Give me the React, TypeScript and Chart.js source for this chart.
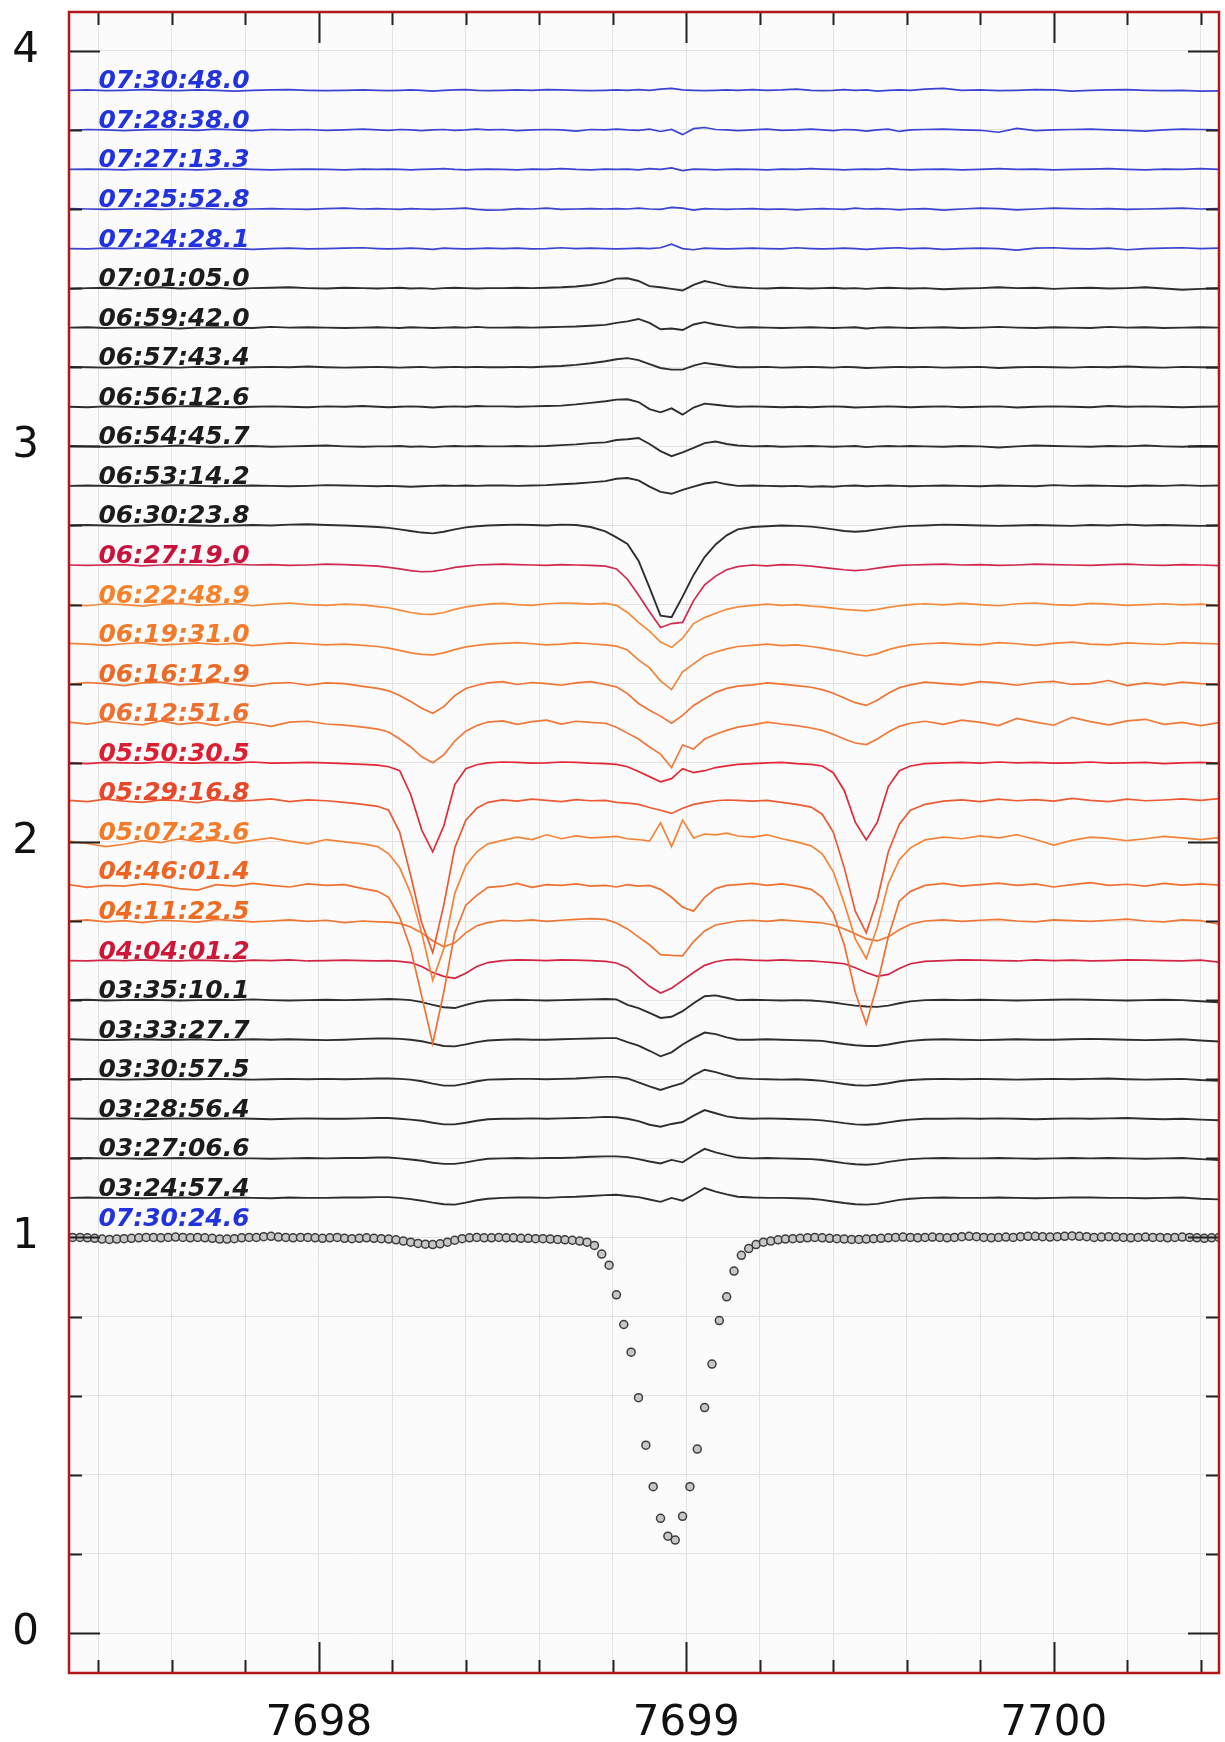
import React, { useEffect, useRef } from "react";
import { Chart, registerables } from "chart.js";

Chart.register(...registerables);

// ---------------- axis ranges ----------------
const X_MIN = 7697.32;
const X_MAX = 7700.45;
const Y_MIN = -0.101;
const Y_MAX = 4.098;
const TICK_STEP = 0.2;
const LABEL_X = 7697.4;

// ---------------- wavelength grid of the stacked spectra ----------------
const WL = [
  7697.32, 7697.37, 7697.42, 7697.47, 7697.52, 7697.57, 7697.62, 7697.67, 7697.72, 7697.77, 7697.82, 7697.87, 7697.92, 7697.97, 7698.02, 7698.07, 7698.12, 7698.16,
  7698.19, 7698.22, 7698.25, 7698.28, 7698.31, 7698.34, 7698.37, 7698.40, 7698.43, 7698.46,
  7698.50, 7698.54, 7698.58, 7698.62, 7698.66, 7698.70, 7698.74, 7698.78,
  7698.81, 7698.84, 7698.87, 7698.90, 7698.93, 7698.96, 7698.99, 7699.02, 7699.05, 7699.08, 7699.11, 7699.14,
  7699.18, 7699.22, 7699.26, 7699.30, 7699.34,
  7699.37, 7699.40, 7699.43, 7699.46, 7699.49, 7699.52, 7699.55, 7699.58, 7699.61,
  7699.65, 7699.70, 7699.75, 7699.80, 7699.85, 7699.90, 7699.95, 7700.00, 7700.05, 7700.10, 7700.15, 7700.20, 7700.25, 7700.30, 7700.35, 7700.40, 7700.46,
];

// Each spectrum: deviation from its vertical offset, in thousandths of relative flux.
const F_073048 = [
  0, 1, -1, 0, 2, 0, -1, 1, 0, -2, 0, 1, 2, 0, -1, 0, 1, 0,
  -1, 0, 1, 0, -2, 0, 1, 2, 0, -1,
  0, 1, 0, 2, 1, 0, -1, 0,
  1, 0, 2, 0, 3, 5, 1, 0, -1, 0, 1, 0,
  2, 0, 1, 3, 0,
  -1, 0, 2, 0, 1, -2, 0, 1, 0,
  3, 5, 0, 1, -1, 0, 2, 1, -2, 0, 1, 2, 0, -1, 0, -2, -1,
];
const F_072838 = [
  -1, 1, 0, -2, 0, 1, 0, -1, 2, 0, -2, 1, 0, 1, -1, 0, 2, 0,
  -1, 1, 0, -2, 0, 1, -1, 0, 2, 0,
  1, -2, 0, 1, 0, -3, 1, 0,
  2, 0, -1, 2, -4, 1, -12, 3, 6, 1, 0, -2,
  0, 2, -1, 0, 2,
  0, -2, 1, 0, -3, 0, 2, -4, 0,
  1, 2, 0, -1, -6, 4, -2, 0, 1, 2, 0, -1, -3, 0, 2, 1, 0,
];
const F_072713 = [
  0, 1, 0, -1, 1, 0, 0, -1, 1, 2, 0, -1, 0, 1, 0, -1, 1, 0,
  1, 0, -1, 0, 1, 2, 0, -1, 0, 1,
  0, -1, 1, 0, 2, 0, -1, 1,
  0, 1, -1, 2, 0, 4, -3, 1, 0, -1, 0, 1,
  0, -1, 1, 0, 2,
  1, 0, -1, 0, 1, 0, 2, 0, -1,
  0, 1, -1, 0, 2, 0, 1, -1, 0, 1, 2, 0, -1, 1, 0, 2, 0,
];
const F_072552 = [
  1, 0, -1, 0, 1, -1, 0, 2, 0, -1, 0, 1, 0, -1, 1, 2, 0, 1,
  0, -1, 1, 0, -1, 0, 1, 2, -1, -3,
  -2, 1, 0, 2, -1, 0, 1, 0,
  1, 0, 2, 0, -1, 4, 2, -3, 1, 0, -1, 0,
  1, -1, 0, -2, 0,
  1, 0, -1, 2, 0, 1, 0, -2, 0,
  1, -3, 0, 2, 1, -2, 0, 2, 1, 0, 1, -1, 0, 1, 2, 0, 1,
];
const F_072428 = [
  0, -1, 1, 0, 2, 0, -1, 0, 1, 0, -2, 0, 1, -1, 0, 1, 2, 0,
  -1, 0, 1, 0, -2, 1, 0, -1, 0, 1,
  0, 1, -1, 0, 2, 0, 1, 0,
  -1, 0, 1, 0, 2, 11, 0, -3, 1, 0, -1, 0,
  1, 0, -1, 2, 0,
  -1, 0, 1, 0, -2, 0, 1, 2, 0,
  1, -2, 0, 1, 0, -4, 1, 2, 0, -1, 1, -3, 0, 1, 2, 0, 1,
];
const F_070105 = [
  -2, 0, 1, -1, 0, 2, -1, 0, 1, -2, 0, 1, 2, 0, -1, 1, 0, -1,
  0, 1, -1, 0, -2, 0, 1, 0, -1, 0,
  0, 1, 0, 1, 2, 4, 8, 15,
  24, 25, 18, 5, 2, -2, -6, 8, 18, 12, 5, 2,
  0, -1, 1, 0, -1,
  0, 1, -1, 0, -2, 0, 1, 0, -1,
  0, -3, -1, 0, 2, 0, 1, -2, 0, 1, -1, 0, 2, -1, -4, -2, 0,
];
const F_065942 = [
  0, 1, -1, 0, 1, 0, -2, 0, 1, 0, -1, 2, 0, 1, 0, -1, 0, 1,
  0, -1, 1, 0, -1, 0, 1, 0, 2, 0,
  0, 1, 0, 1, 2, 3, 5, 7,
  12, 16, 22, 12, -4, -2, -6, 8, 14, 8, 4, 0,
  1, 0, -1, 0, 1,
  0, -1, 0, 1, -2, 0, 1, 0, -1,
  0, 1, -1, 0, 2, 0, -1, 1, 0, -1, 2, 0, 1, -1, 0, 1, 0,
];
const F_065743 = [
  1, 0, -1, 0, 2, 0, -1, 1, 0, -1, 0, 1, 0, 2, 0, -1, 0, 1,
  0, -1, 0, 1, -1, 0, 1, 0, 1, 0,
  0, 1, 0, 2, 3, 6, 10, 15,
  20, 23, 18, 8, -2, -6, -6, 4, 11, 7, 3, 0,
  0, 1, -1, 0, 1,
  0, -1, 1, 0, -2, -1, 0, 1, 0,
  1, -1, 0, 1, -2, 0, 1, 0, -1, 1, 0, 2, 0, -1, 1, 0, -1,
];
const F_065612 = [
  0, -1, 1, 0, -1, 0, 1, 2, 0, -1, 0, 1, 0, -1, 1, 0, 2, 0,
  -1, 0, 1, 0, -2, 0, 1, 0, 2, 1,
  1, 0, 1, 2, 3, 6, 10, 14,
  18, 19, 12, -6, -14, -4, -20, -2, 8, 5, 2, 0,
  1, 0, -1, 0, -1,
  0, 1, 0, -2, -1, 0, 1, 0, -1,
  0, 1, -1, 0, 1, -2, 0, 1, 0, -1, 2, 0, 1, 0, -1, 0, 1,
];
const F_065445 = [
  1, 0, -1, 0, 1, 0, 2, 0, -1, 0, 1, -1, 0, 1, 2, 0, -1, 0,
  0, 1, -1, 0, -2, 0, 1, 0, 1, 0,
  0, 1, 0, 1, 3, 5, 8, 10,
  16, 18, 21, 6, -12, -25, -15, -4, 8, 12, 6, 2,
  0, 1, -1, 0, 1,
  0, -1, 0, 1, -2, 0, 1, 0, 1,
  0, -1, 1, 0, -3, 0, 2, 1, 0, -1, 1, 0, 2, 0, -1, 1, 0,
];
const F_065314 = [
  0, 1, 0, -1, 0, 1, 2, 0, -1, 0, 1, 0, -1, 0, 2, 1, 0, -1,
  0, -1, -2, -1, 0, 1, 0, 1, 0, 1,
  1, 0, 1, 2, 4, 6, 9, 12,
  18, 20, 14, -2, -15, -20, -10, -2, 6, 10, 4, 0,
  1, 0, -1, 0, -2,
  -1, -2, 0, 1, -1, 0, 1, 0, -1,
  0, 1, 0, -1, 1, 0, -1, 2, 0, 1, 0, -1, 1, 0, 2, 0, 1,
];
const F_063023 = [
  0, 1, 0, -1, 0, 2, 1, 0, -1, 0, 1, 0, 2, 3, 1, 0, -2, -4,
  -6, -10, -14, -18, -20, -16, -10, -5, -2, 0,
  1, 2, 1, 0, 2, 1, -4, -15,
  -30, -47, -89, -157, -228, -232, -180, -125, -80, -48, -25, -10,
  -4, -2, 0, -1, -3,
  -6, -10, -14, -16, -14, -10, -6, -3, -1,
  0, 2, 1, 0, -1, 0, 1, 0, -1, 1, 0, 2, 0, 1, 0, -1, 0,
];
const F_062719 = [
  0, -1, 0, 1, -2, 0, 1, 0, -1, 2, 0, 1, -1, 0, 2, 1, -1, -3,
  -6, -10, -14, -17, -16, -12, -6, -3, 0, 1,
  2, 1, 0, -1, 1, 0, -1, -3,
  -10, -36, -76, -118, -158, -148, -145, -90, -50, -28, -12, -4,
  0, -2, 1, 0, -3,
  -6, -9, -12, -14, -12, -8, -4, -1, 0,
  1, 2, 0, 1, -1, 0, 2, 1, 0, -1, 1, 2, 0, -1, 1, 0, -2,
];
const F_062248 = [
  0, -3, 2, 0, -4, 1, 3, -2, 0, 2, -3, 1, 4, 0, -2, 1, -1, -5,
  -8, -14, -20, -24, -25, -20, -12, -6, -2, 1,
  3, 0, -2, 2, 4, 3, 1, 3,
  -2, -20, -45, -67, -95, -108, -85, -48, -33, -22, -12, -6,
  -2, 1, -2, 0, -4,
  -6, -9, -12, -14, -16, -12, -7, -3, 0,
  2, -1, 3, 0, -3, 2, 4, 0, -2, 3, 1, -2, 0, 2, -1, 1, -3,
];
const F_061931 = [
  2, 0, -3, 1, 4, -2, 0, 3, -1, 2, -4, 0, 3, 1, -2, 0, -3, -6,
  -10, -16, -22, -26, -27, -22, -14, -7, -3, 0,
  2, 4, 1, -2, 0, 3, 1, -2,
  -5, -15, -40, -60, -93, -115, -70, -50, -30, -20, -12, -6,
  -3, 0, -4, -2, -6,
  -10, -15, -20, -26, -30, -24, -14, -7, -2,
  1, 3, 0, -2, 4, 1, -3, 2, 5, 0, -2, 3, 1, -1, 4, 2, 0,
];
const F_061612 = [
  -2, 3, 0, -5, 2, 4, -3, 0, 5, -2, -6, 1, 3, -4, 2, 0, -7, -12,
  -18, -30, -45, -62, -75, -58, -30, -12, -4, 2,
  5, -2, 3, 0, -4, 2, 5, -2,
  -8, -25, -50, -67, -82, -100, -80, -55, -38, -22, -12, -6,
  -3, 2, -1, -5, -9,
  -15, -24, -36, -48, -55, -42, -24, -10, -3,
  4, 0, -3, 5, 2, -4, 3, 6, -2, 0, 8, -5, 2, -3, 4, 0, -2,
];
const F_061251 = [
  3, -2, 5, 0, -4, 6, -3, 2, -6, 4, 0, -8, 3, 5, -2, -5, -10, -15,
  -22, -40, -60, -85, -100, -80, -45, -20, -6, 3,
  6, -3, 4, 8, -2, 5, 2, 0,
  -10, -25, -40, -60, -78, -112, -55, -65, -40, -28, -18, -10,
  -4, 3, -2, -6, -12,
  -18, -28, -40, -50, -54, -40, -22, -8, 0,
  5, -3, 8, 2, -6, 12, 3, -5, 15, 4, -4, 6, 10, -3, 2, -6, 3,
];
const F_055030 = [
  0, -2, 1, 0, -1, 2, 0, -1, 1, 0, 2, -1, 0, 1, 0, -2, -4, -6,
  -10, -20, -80, -170, -225, -160, -55, -15, -5, 0,
  2, 1, -1, 0, 2, 1, -1, -2,
  -4, -10, -22, -35, -48, -40, -15, -25, -20, -12, -8, -4,
  -2, 0, 1, -2, -4,
  -8, -25, -70, -150, -195, -150, -60, -20, -8,
  -2, 0, 1, -1, 2, 0, 1, -1, 0, 2, -1, 0, 1, -2, 0, 1, -1,
];
const F_052916 = [
  5, 2, 8, 3, 0, 6, 4, -1, 7, 3, 5, 9, 2, 6, 4, 0, -5, -10,
  -20, -75, -185, -305, -380, -260, -115, -45, -15, 0,
  6, 3, 8, 5, 2, 7, 4, 5,
  0, -2, -5, -13, -20, -28, -15, -5, 0, 4, 6, 5,
  3, 5, 0, -5, -12,
  -30, -75, -165, -275, -330, -245, -125, -55, -20,
  -5, 3, 6, 2, 8, 4, 7, 3, 10, 5, 2, 8, 4, 6, 9, 5, 10,
];
const F_050723 = [
  2, -4, -12, -6, 3, -2, 8, 0, 5, -3, 4, 10, 2, -5, 6, 0, -5, -12,
  -30, -65, -130, -230, -350, -270, -130, -60, -25, -5,
  4, 12, 6, 18, 8, 15, 10, 12,
  14, 8, 6, 2, 48, -12, 55, 10, 20, 18, 22, 15,
  12, 18, 8, 0, -10,
  -30, -75, -155, -245, -295, -215, -105, -45, -15,
  5, 12, 8, 15, 10, 18, 6, -8, 4, 12, 9, 3, 8, 14, 10, 6, 12,
];
const F_044601 = [
  -8, -15, -10, -12, -6, -10, -18, -22, -8, -12, -5, -10, -14, -6, -10, -8, -18, -25,
  -40, -90, -170, -290, -410, -280, -130, -60, -35, -15,
  -12, -5, -15, -8, -10, -6, -12, -10,
  -14, -8, -12, -10, -20, -40, -65, -75, -40, -18, -10, -8,
  -5, -10, -6, -12, -20,
  -40, -80, -160, -280, -360, -260, -140, -50, -25,
  -10, -5, -12, -8, -4, -10, -6, -14, -8, -3, -10, -7, -12, -5, -9, -6, -10,
];
const F_041122 = [
  0, 3, -2, 1, -4, 2, 0, -3, 4, 1, -2, 0, 3, -1, 2, -4, 0, -2,
  -3, -6, -15, -30, -50, -65, -55, -30, -12, -4,
  2, 0, 3, -1, 2, 4, 6, 4,
  -5, -20, -40, -60, -85, -87, -88, -52, -25, -10, -5, 0,
  2, -1, 3, 0, -3,
  -5, -10, -20, -32, -45, -50, -40, -22, -8,
  0, 3, -1, 2, 4, 0, -2, 3, 1, -1, 2, 5, 0, -2, 3, 1, -10,
];
const F_040401 = [
  0, -1, 1, 0, 2, 0, -1, 1, 0, -2, 1, 0, 2, -1, 0, 1, 0, -1,
  0, -2, -5, -15, -30, -40, -45, -32, -15, -5,
  0, 2, 1, 0, 2, 1, 0, -2,
  -6, -18, -42, -65, -82, -70, -50, -30, -12, -3, 2, 3,
  1, 0, 2, 0, -1,
  -3, -5, -8, -18, -30, -40, -35, -20, -8,
  -2, 0, 2, 1, 0, -1, 2, 0, 1, -1, 0, 2, 1, 0, -1, 1, -5,
];
const F_033510 = [
  0, 1, -1, 0, 1, 0, -1, 0, 1, 0, 2, 0, -1, 0, 1, 0, 1, 2,
  3, 2, 0, -5, -12, -18, -20, -12, -5, -1,
  0, 1, 0, -1, 0, 1, 2, 3,
  2, -12, -20, -32, -45, -42, -28, -8, 10, 12, 6, 0,
  1, 0, -1, 0, -1,
  -3, -6, -10, -14, -16, -17, -14, -8, -3,
  0, 1, 0, 1, 0, -1, 0, 1, 2, 1, 0, -1, 0, 1, 0, -3, -6,
];
const F_033327 = [
  1, 0, -1, 0, 1, 0, 0, 1, -1, 0, 1, 0, 1, 0, -1, 0, 2, 3,
  3, 2, 0, -4, -10, -16, -17, -12, -6, -2,
  0, 1, 0, 0, 1, 2, 3, 4,
  4, -6, -15, -28, -42, -32, -12, 4, 18, 14, 6, 0,
  0, 1, 0, -1, -2,
  -3, -7, -11, -14, -16, -16, -12, -7, -3,
  0, 1, 0, -1, 0, 1, 0, 0, 1, 2, 1, 0, -1, 0, 1, -2, -5,
];
const F_033057 = [
  0, 1, 0, -1, 0, 1, 0, 0, 1, 0, -1, 0, 1, 0, 1, 0, 1, 2,
  2, 1, -1, -5, -11, -16, -16, -11, -5, -1,
  0, 1, 1, 0, 1, 2, 4, 6,
  6, 2, -8, -18, -27, -18, -10, 10, 24, 18, 10, 3,
  1, 0, -1, 0, -2,
  -4, -8, -12, -15, -16, -14, -10, -5, -2,
  0, 1, 0, 1, 0, -1, 0, 1, 0, 1, 2, 0, -1, 0, 1, -2, -4,
];
const F_032856 = [
  1, 0, 0, 1, -1, 0, 1, 0, 0, 1, 0, -1, 0, 1, 0, 0, 1, 2,
  2, 0, -2, -5, -10, -14, -14, -10, -5, -1,
  0, 0, 1, 0, 1, 2, 3, 5,
  4, 0, -6, -15, -20, -13, -8, 8, 22, 14, 6, 2,
  0, 1, 0, -1, -2,
  -4, -7, -11, -14, -15, -13, -9, -5, -2,
  0, 0, 1, 0, 1, 0, -1, 0, 1, 0, 1, 2, 0, -1, 0, -2, -4,
];
const F_032706 = [
  0, 1, 0, 0, -1, 0, 1, 0, 1, 0, 0, -1, 0, 1, 0, 1, 1, 2,
  2, 0, -3, -6, -11, -14, -14, -10, -5, -1,
  0, 1, 0, 1, 1, 2, 4, 5,
  5, 3, -2, -8, -13, -4, -10, 8, 24, 15, 8, 2,
  0, 1, 0, -1, -2,
  -4, -8, -12, -15, -16, -14, -9, -5, -2,
  0, 1, 0, 0, 1, 0, -1, 0, 1, 0, 1, 0, -1, 0, 1, -2, -5,
];
const F_032457 = [
  0, 1, 0, 0, -1, 0, 1, 0, 0, 1, 0, -1, 1, 0, 0, 1, 1, 2,
  2, 0, -3, -7, -12, -16, -17, -12, -6, -2,
  0, 1, 1, 0, 2, 3, 5, 7,
  8, 5, 2, -4, -10, 0, -7, 8, 25, 16, 9, 3,
  1, 0, 0, -1, -2,
  -5, -9, -13, -16, -17, -15, -10, -5, -2,
  0, 1, 0, 0, 1, 0, -1, 0, 1, 1, 0, 0, -1, 0, 1, -2, -4,
];

const SERIES = [
  F_073048, F_072838, F_072713, F_072552, F_072428,
  F_070105, F_065942, F_065743, F_065612, F_065445, F_065314, F_063023,
  F_062719, F_062248, F_061931, F_061612, F_061251, F_055030, F_052916, F_050723, F_044601, F_041122, F_040401,
  F_033510, F_033327, F_033057, F_032856, F_032706, F_032457,
];
const OFFSETS = [
  3.9, 3.8, 3.7, 3.6, 3.5,
  3.4, 3.3, 3.2, 3.1, 3.0, 2.9, 2.8,
  2.7, 2.6, 2.5, 2.4, 2.3, 2.2, 2.1, 2.0, 1.9, 1.8, 1.7,
  1.6, 1.5, 1.4, 1.3, 1.2, 1.1,
];
const LABELS = [
  "07:30:48.0", "07:28:38.0", "07:27:13.3", "07:25:52.8", "07:24:28.1",
  "07:01:05.0", "06:59:42.0", "06:57:43.4", "06:56:12.6", "06:54:45.7", "06:53:14.2", "06:30:23.8",
  "06:27:19.0", "06:22:48.9", "06:19:31.0", "06:16:12.9", "06:12:51.6", "05:50:30.5", "05:29:16.8", "05:07:23.6", "04:46:01.4", "04:11:22.5", "04:04:01.2",
  "03:35:10.1", "03:33:27.7", "03:30:57.5", "03:28:56.4", "03:27:06.6", "03:24:57.4",
];
const TEXT_COLORS = [
  "#2233dd", "#2233dd", "#2233dd", "#2233dd", "#2233dd",
  "#1c1c1c", "#1c1c1c", "#1c1c1c", "#1c1c1c", "#1c1c1c", "#1c1c1c", "#1c1c1c",
  "#c8143c", "#f5822a", "#f07a28", "#ec6a28", "#ee7030", "#dc1e32", "#e8482a", "#f27c2a", "#ee6424", "#ee6c22", "#cc1838",
  "#1c1c1c", "#1c1c1c", "#1c1c1c", "#1c1c1c", "#1c1c1c", "#1c1c1c",
];
const LINE_COLORS = [
  "#3c43d2", "#3c43d2", "#3c43d2", "#3c43d2", "#3c43d2",
  "#2e2e2e", "#2e2e2e", "#2e2e2e", "#2e2e2e", "#2e2e2e", "#2e2e2e", "#2e2e2e",
  "#d02a50", "#f58a3c", "#f3823a", "#ef7434", "#f07838", "#e02838", "#ec5a34", "#f4843a", "#f07032", "#f07634", "#d22444",
  "#2e2e2e", "#2e2e2e", "#2e2e2e", "#2e2e2e", "#2e2e2e", "#2e2e2e",
];

// ---------------- reference profile drawn as circles ----------------
const DOT_LABEL = "07:30:24.6";
const DOT_LABEL_Y = 1.03;
const DOT_WL = [
  7697.33, 7697.35, 7697.37, 7697.39, 7697.41, 7697.43, 7697.45, 7697.47, 7697.49, 7697.51,
  7697.53, 7697.55, 7697.57, 7697.59, 7697.61, 7697.63, 7697.65, 7697.67, 7697.69, 7697.71,
  7697.73, 7697.75, 7697.77, 7697.79, 7697.81, 7697.83, 7697.85, 7697.87, 7697.89, 7697.91,
  7697.93, 7697.95, 7697.97, 7697.99,
  7698.01, 7698.03, 7698.05, 7698.07, 7698.09, 7698.11, 7698.13, 7698.15, 7698.17, 7698.19,
  7698.21, 7698.23, 7698.25, 7698.27, 7698.29, 7698.31, 7698.33, 7698.35, 7698.37, 7698.39,
  7698.41, 7698.43, 7698.45, 7698.47, 7698.49, 7698.51, 7698.53, 7698.55, 7698.57, 7698.59,
  7698.61, 7698.63, 7698.65, 7698.67, 7698.69, 7698.71, 7698.73, 7698.75, 7698.77, 7698.79,
  7698.81, 7698.83, 7698.85, 7698.87, 7698.89, 7698.91, 7698.93, 7698.95, 7698.97, 7698.99,
  7699.01, 7699.03, 7699.05, 7699.07, 7699.09, 7699.11, 7699.13, 7699.15, 7699.17, 7699.19,
  7699.21, 7699.23, 7699.25, 7699.27, 7699.29, 7699.31, 7699.33, 7699.35, 7699.37, 7699.39,
  7699.41, 7699.43, 7699.45, 7699.47, 7699.49, 7699.51, 7699.53, 7699.55, 7699.57, 7699.59,
  7699.61, 7699.63, 7699.65, 7699.67, 7699.69, 7699.71, 7699.73, 7699.75, 7699.77, 7699.79,
  7699.81, 7699.83, 7699.85, 7699.87, 7699.89, 7699.91, 7699.93, 7699.95, 7699.97, 7699.99,
  7700.01, 7700.03, 7700.05, 7700.07, 7700.09, 7700.11, 7700.13, 7700.15, 7700.17, 7700.19,
  7700.21, 7700.23, 7700.25, 7700.27, 7700.29, 7700.31, 7700.33, 7700.35, 7700.37, 7700.39,
  7700.41, 7700.43, 7700.45,
];
const DOT_FLUX = [
  1.000, 1.000, 0.999, 0.998, 0.996, 0.995, 0.996, 0.997, 0.998, 0.999,
  1.000, 1.000, 0.999, 1.000, 1.001, 1.000, 0.999, 1.000, 0.999, 0.998,
  0.996, 0.996, 0.997, 0.999, 1.000, 1.000, 1.002, 1.003, 1.001, 1.000,
  0.999, 1.000, 1.000, 0.999,
  0.998, 0.999, 1.000, 0.998, 0.997, 0.998, 0.999, 0.998, 0.997, 0.996,
  0.994, 0.991, 0.988, 0.985, 0.983, 0.982, 0.984, 0.988, 0.993, 0.997,
  0.999, 1.000, 0.999, 0.999, 1.000, 0.999, 0.999, 0.998, 0.998, 0.997,
  0.997, 0.996, 0.995, 0.994, 0.993, 0.991, 0.988, 0.980, 0.958, 0.930,
  0.855, 0.780, 0.710, 0.595, 0.475, 0.370, 0.290, 0.245, 0.235, 0.295,
  0.370, 0.465, 0.570, 0.680, 0.790, 0.850, 0.915, 0.955, 0.972, 0.982,
  0.988, 0.991, 0.994, 0.996, 0.997, 0.998, 0.999, 1.000, 0.999, 0.998,
  0.997, 0.996, 0.995, 0.995, 0.996, 0.997, 0.998, 0.999, 1.000, 1.001,
  1.000, 0.999, 1.000, 1.001, 1.000, 0.999, 1.000, 1.002, 1.003, 1.002,
  1.000, 0.999, 1.000, 1.001, 1.000, 1.002, 1.003, 1.003, 1.002, 1.001,
  1.002, 1.003, 1.004, 1.003, 1.002, 1.000, 1.001, 1.002, 1.001, 1.000,
  0.999, 1.000, 1.001, 1.000, 1.000, 0.999, 1.000, 1.001, 1.000, 0.999,
  0.998, 0.999, 1.000,
];

const isWhole = (v: number) => Math.abs(v - Math.round(v)) < 1e-6;

export default function App() {
  const ref = useRef<HTMLCanvasElement | null>(null);

  useEffect(() => {
    document.body.style.margin = "0";
    const canvas = ref.current;
    if (!canvas) return;

    const datasets: any[] = SERIES.map((dev, i) => ({
      label: LABELS[i],
      data: WL.map((x, j) => ({ x, y: OFFSETS[i] + dev[j] / 1000 })),
      showLine: true,
      borderColor: LINE_COLORS[i],
      borderWidth: LINE_COLORS[i] === "#2e2e2e" ? 1.9 : 1.7,
      pointRadius: 0,
      tension: 0,
      fill: false,
    }));
    datasets.push({
      label: DOT_LABEL,
      data: DOT_WL.map((x, j) => ({ x, y: DOT_FLUX[j] })),
      showLine: false,
      pointRadius: 4,
      pointBorderWidth: 1.5,
      pointBorderColor: "#3c3c3c",
      pointBackgroundColor: "rgba(196,196,196,0.95)",
    });

    const deco = {
      id: "deco",
      beforeDraw(chart: any) {
        const { ctx, chartArea: a } = chart;
        ctx.save();
        ctx.fillStyle = "#fafbfa";
        ctx.fillRect(a.left, a.top, a.right - a.left, a.bottom - a.top);
        ctx.restore();
      },
      afterDatasetsDraw(chart: any) {
        const { ctx } = chart;
        const xs = chart.scales.x;
        const ys = chart.scales.y;
        ctx.save();
        ctx.font = 'italic bold 25px "DejaVu Sans"';
        ctx.textAlign = "left";
        ctx.textBaseline = "alphabetic";
        const lx = xs.getPixelForValue(LABEL_X);
        LABELS.forEach((t, i) => {
          ctx.fillStyle = TEXT_COLORS[i];
          ctx.fillText(t, lx, ys.getPixelForValue(OFFSETS[i]) - 2);
        });
        ctx.fillStyle = "#2233dd";
        ctx.fillText(DOT_LABEL, lx, ys.getPixelForValue(DOT_LABEL_Y));
        ctx.restore();
      },
      afterDraw(chart: any) {
        const { ctx, chartArea: a } = chart;
        const xs = chart.scales.x;
        const ys = chart.scales.y;
        ctx.save();
        ctx.strokeStyle = "#222";
        ctx.lineWidth = 2;
        ctx.beginPath();
        xs.ticks.forEach((t: any) => {
          const px = Math.round(xs.getPixelForValue(t.value)) + 0.5;
          const len = isWhole(t.value) ? 31 : 13;
          ctx.moveTo(px, a.bottom);
          ctx.lineTo(px, a.bottom - len);
          ctx.moveTo(px, a.top);
          ctx.lineTo(px, a.top + len);
        });
        ys.ticks.forEach((t: any) => {
          const py = Math.round(ys.getPixelForValue(t.value)) + 0.5;
          const len = isWhole(t.value) ? 31 : 13;
          ctx.moveTo(a.left, py);
          ctx.lineTo(a.left + len, py);
          ctx.moveTo(a.right, py);
          ctx.lineTo(a.right - len, py);
        });
        ctx.stroke();
        ctx.strokeStyle = "#b3161b";
        ctx.lineWidth = 2.5;
        ctx.strokeRect(a.left, a.top, a.right - a.left, a.bottom - a.top);
        ctx.restore();
      },
    };

    const tickFont = { size: 42, family: "DejaVu Sans" };
    const chart = new Chart(canvas, {
      type: "scatter",
      data: { datasets },
      options: {
        animation: false,
        responsive: false,
        devicePixelRatio: 1,
        events: [],
        layout: { padding: { left: 0, right: 6, top: 12, bottom: 0 } },
        plugins: { legend: { display: false }, tooltip: { enabled: false } },
        scales: {
          x: {
            type: "linear",
            min: X_MIN,
            max: X_MAX,
            border: { display: false },
            grid: { color: "#e3e3e3", lineWidth: 1, drawTicks: false },
            ticks: {
              stepSize: TICK_STEP,
              includeBounds: false,
              autoSkip: false,
              maxRotation: 0,
              padding: 26,
              color: "#111",
              font: tickFont,
              callback: (v: any) => (isWhole(Number(v)) ? String(Math.round(Number(v))) : ""),
            },
            afterFit: (s: any) => {
              s.height = 69;
              s.paddingLeft = 0;
              s.paddingRight = 0;
            },
          },
          y: {
            type: "linear",
            min: Y_MIN,
            max: Y_MAX,
            border: { display: false },
            grid: { color: "#e3e3e3", lineWidth: 1, drawTicks: false },
            ticks: {
              stepSize: TICK_STEP,
              includeBounds: false,
              autoSkip: false,
              padding: 30,
              color: "#111",
              font: tickFont,
              callback: (v: any) => (isWhole(Number(v)) ? String(Math.round(Number(v))) : ""),
            },
            afterFit: (s: any) => {
              s.width = 69;
              s.paddingTop = 0;
              s.paddingBottom = 0;
            },
          },
        },
      } as any,
      plugins: [deco],
    });
    return () => chart.destroy();
  }, []);

  return (
    <div style={{ width: 1225, height: 1742, position: "relative", background: "#fff" }}>
      <canvas ref={ref} width={1225} height={1742} style={{ display: "block", width: 1225, height: 1742 }} />
    </div>
  );
}
